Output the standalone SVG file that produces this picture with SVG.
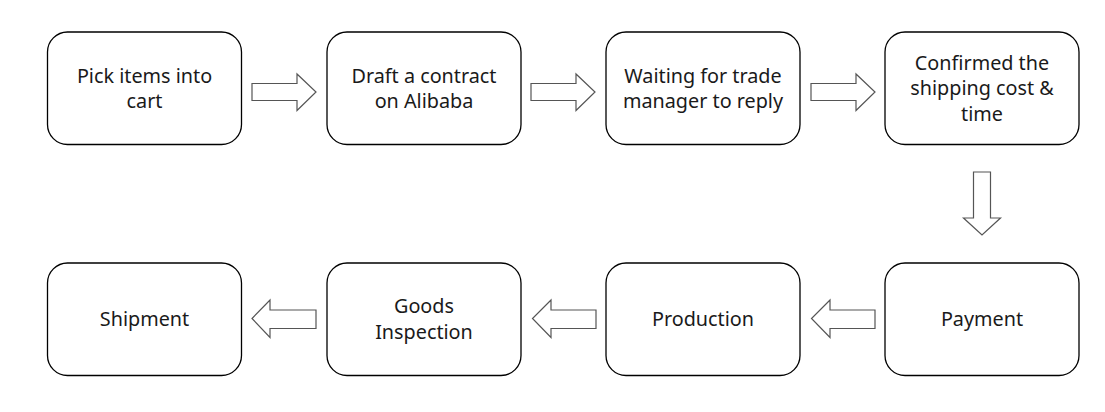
<svg xmlns="http://www.w3.org/2000/svg" width="1105" height="412" viewBox="0 0 1105 412">
<style>
.box{fill:#fff;stroke:#000;stroke-width:1.3}
.arr{fill:#fff;stroke:#555;stroke-width:1.2;stroke-linejoin:miter}
text{font-family:"Noto Sans","Open Sans","DejaVu Sans",sans-serif;font-size:19.8px;fill:#1a1a1a;text-anchor:middle}
</style>
<rect width="1105" height="412" fill="#fff"/>
<g id="n1"><rect class="box" x="47.5" y="32" width="194" height="112.5" rx="20"/><text x="144.5" y="82.5">Pick items into</text><text x="144.5" y="108">cart</text></g>
<g id="n2"><rect class="box" x="327" y="32" width="194" height="112.5" rx="20"/><text x="424" y="82.5">Draft a contract</text><text x="424" y="108">on Alibaba</text></g>
<g id="n3"><rect class="box" x="606" y="32" width="194" height="112.5" rx="20"/><text x="703" y="82.5">Waiting for trade</text><text x="703" y="108">manager to reply</text></g>
<g id="n4"><rect class="box" x="885" y="32" width="194" height="112.5" rx="20"/><text x="982" y="69.5">Confirmed the</text><text x="982" y="95">shipping cost &amp;</text><text x="982" y="120.5">time</text></g>
<g id="n5"><rect class="box" x="885" y="263" width="194" height="112.5" rx="20"/><text x="982" y="326">Payment</text></g>
<g id="n6"><rect class="box" x="606" y="263" width="194" height="112.5" rx="20"/><text x="703" y="326">Production</text></g>
<g id="n7"><rect class="box" x="327" y="263" width="194" height="112.5" rx="20"/><text x="424" y="313">Goods</text><text x="424" y="338.5">Inspection</text></g>
<g id="n8"><rect class="box" x="47.5" y="263" width="194" height="112.5" rx="20"/><text x="144.5" y="326">Shipment</text></g>
<g id="connectors">
<polygon class="arr" points="252,83.5 297,83.5 297,74 316,92 297,110.5 297,100.5 252,100.5"/>
<polygon class="arr" points="531,83.5 576,83.5 576,74 595,92 576,110.5 576,100.5 531,100.5"/>
<polygon class="arr" points="811,83.5 856,83.5 856,74 875,92 856,110.5 856,100.5 811,100.5"/>
<polygon class="arr" points="973.5,172 990.5,172 990.5,218 1000.5,218 982,235 963.5,218 973.5,218"/>
<polygon class="arr" points="875,310 830,310 830,300 811.5,318.5 830,337.5 830,328.5 875,328.5"/>
<polygon class="arr" points="596,310 551,310 551,300 532.5,318.5 551,337.5 551,328.5 596,328.5"/>
<polygon class="arr" points="316,310 270,310 270,300 252,318.5 270,337.5 270,328.5 316,328.5"/>
</g>
</svg>
